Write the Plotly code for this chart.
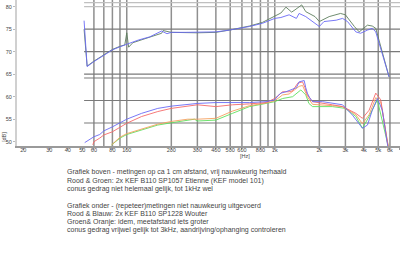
import numpy as np
import plotly.graph_objects as go

# ---------------- data (Hz, dB) ----------------
up_blue_f = [51.5, 54, 60, 70, 80, 90, 100, 120, 143, 172, 187, 200, 250, 300, 400, 494, 600, 674, 824, 1000,
             1100, 1250, 1400, 1460, 1620, 1870, 2000, 2150, 2600, 2870, 3100, 3530, 3800, 4230, 4560, 4810, 5200, 5920]
up_blue_db = [76.9, 66.7, 67.8, 69.3, 70.4, 71.1, 71.7, 72.6, 73.3, 74.6, 74.0, 74.3, 74.3, 74.3, 74.4, 74.8, 75.2, 75.6, 76.3, 77.4,
              77.6, 78.2, 77.4, 78.5, 77.8, 76.3, 75.6, 76.7, 77.0, 77.4, 76.7, 74.4, 74.1, 74.8, 75.2, 74.4, 70.8, 64.4]

up_green_f = [51.5, 54, 60, 70, 80, 90, 97, 100, 103, 110, 143, 172, 176, 200, 300, 400, 494, 600, 674, 824, 1000,
              1100, 1190, 1300, 1370, 1520, 1620, 1870, 2000, 2150, 2330, 2780, 3000, 3450, 3720, 4230, 4560, 4810, 5200, 5920]
up_green_db = [75.0, 66.8, 67.9, 69.4, 70.5, 71.2, 71.5, 74.2, 71.0, 72.0, 73.3, 74.1, 74.7, 74.3, 74.2, 74.3, 74.8, 75.3, 75.7, 76.5, 77.9,
               78.6, 79.9, 78.8, 79.3, 80.4, 78.9, 77.8, 76.7, 77.3, 77.8, 78.5, 78.2, 75.6, 74.4, 75.9, 75.7, 75.2, 71.0, 64.4]

lo_blue_f = [52, 56, 58, 60, 65.7, 70, 80, 90, 100, 126, 162, 200, 258, 300, 400, 518, 674, 873, 1000, 1050, 1100, 1190,
             1320, 1400, 1460, 1580, 1620, 1660, 1720, 1800, 2100, 2450, 2870, 3350, 3910, 4230, 4560, 4930, 5330, 5760, 6100]
lo_blue_db = [49.8, 50.4, 50.8, 51.1, 51.6, 52.4, 53.3, 54.2, 55.0, 56.3, 57.4, 57.9, 58.3, 58.5, 58.7, 58.7, 58.7, 58.9, 59.3, 60.2, 60.8, 61.1,
              61.6, 62.0, 63.3, 63.6, 62.0, 60.8, 59.8, 58.9, 58.9, 58.5, 58.2, 55.9, 53.0, 53.7, 57.0, 59.6, 57.0, 49.6, 45.0]

lo_red_f = [59, 60, 65.7, 70, 80, 90, 100, 126, 162, 200, 258, 300, 400, 518, 674, 873, 1000, 1130, 1250, 1320, 1430,
            1540, 1600, 1660, 1800, 2100, 2450, 2870, 3530, 3910, 4340, 4810, 5200, 5920]
lo_red_db = [49.3, 50.0, 50.8, 51.5, 52.2, 53.3, 54.1, 55.6, 56.7, 57.4, 57.9, 58.2, 57.8, 58.2, 58.4, 58.7, 59.6, 61.1, 61.1, 61.3, 63.0,
             63.3, 62.0, 60.4, 58.9, 58.6, 58.2, 57.8, 56.3, 55.2, 57.0, 60.8, 59.3, 47.5]

lo_orange_f = [79, 90, 100, 126, 162, 200, 258, 300, 400, 518, 674, 873, 1000, 1130, 1250, 1460, 1540, 1660, 1800,
               2450, 2870, 3530, 3910, 4340, 4810, 5200, 5920]
lo_orange_db = [49.3, 51.0, 51.8, 52.8, 53.9, 54.5, 55.0, 55.0, 55.2, 56.8, 58.0, 58.6, 59.1, 60.4, 60.6, 62.3, 62.5, 60.0, 58.3,
                58.0, 57.8, 56.0, 54.0, 56.0, 59.8, 58.8, 48.0]

lo_green_f = [79, 90, 100, 126, 162, 200, 258, 287, 300, 400, 518, 674, 873, 1000, 1130, 1320, 1500, 1620, 1700, 1800,
              2450, 3000, 3530, 3910, 4340, 4930, 5920]
lo_green_db = [49.3, 50.8, 51.6, 52.6, 53.7, 54.2, 54.8, 55.0, 54.6, 54.8, 56.3, 57.8, 58.5, 58.9, 59.6, 60.0, 61.5, 60.4, 58.5, 57.8,
               57.8, 57.4, 55.6, 53.0, 55.6, 59.3, 48.2]

x_tickvals = [20, 30, 40, 50, 60, 80, 100, 200, 300, 400, 500, 600, 800, 1000, 2000, 3000, 4000, 5000, 6000, 7000]
x_ticktext = ["20", "30", "40", "50", "60", "80", "100", "200", "300", "400", "500", "600", "800",
              "1k", "2k", "3k", "4k", "5k", "6k", "7k"]
y_tickvals = [50, 55, 60, 65, 70, 75, 80]
grid_freqs = [60, 70, 80, 90, 100, 200, 300, 400, 500, 600, 700, 800, 900, 1000, 2000, 3000, 4000, 5000, 6000]
grid_levels = [80.89, 80, 75, 70, 65, 64.16, 59.16, 54.16]

notes = [
    "Grafiek boven - metingen op ca 1 cm afstand, vrij nauwkeurig herhaald",
    "Rood & Groen: 2x KEF B110 SP1057 Etienne (KEF model 101)",
    "conus gedrag niet helemaal gelijk, tot 1kHz wel",
    "",
    "Grafiek onder - (repeteer)metingen niet nauwkeurig uitgevoerd",
    "Rood & Blauw: 2x KEF B110 SP1228 Wouter",
    "Groen& Oranje: idem, meetafstand iets groter",
    "conus gedrag vrijwel gelijk tot 3kHz, aandrijving/ophanging controleren",
]

FONT = "Arial, Liberation Sans, sans-serif"

fig = go.Figure()

series = [
    (up_green_f, up_green_db, "#5f7f5f"),
    (up_blue_f, up_blue_db, "#6a6af5"),
    (lo_green_f, lo_green_db, "#5ee05e"),
    (lo_orange_f, lo_orange_db, "#f5a060"),
    (lo_red_f, lo_red_db, "#f56a6a"),
    (lo_blue_f, lo_blue_db, "#6a6af5"),
]
for f, d, c in series:
    fig.add_trace(go.Scatter(x=f, y=d, mode="lines", line=dict(color=c, width=0.9), showlegend=False, hoverinfo="skip"))

shapes = []
for g in grid_freqs:
    shapes.append(dict(type="line", xref="x", yref="paper", x0=g, x1=g, y0=0, y1=1,
                       line=dict(color="#8f8f8f", width=1.5), layer="below"))
for i, lv in enumerate(grid_levels):
    col = "#c0c0c0" if i < 2 else "#7a7a7a"
    shapes.append(dict(type="line", xref="x", yref="y", x0=51.5, x1=7200, y0=lv, y1=lv,
                       line=dict(color=col, width=1.2), layer="below"))

H = 146.0  # plot height in px
ann = []
top_px = 172.3
for i, t in enumerate(notes):
    if not t:
        continue
    ypx = top_px + i * 8.3
    ann.append(dict(text=t, xref="paper", yref="paper", x=(65 - 17) / 383.0, y=(H - ypx) / H,
                    xanchor="left", yanchor="middle", showarrow=False,
                    font=dict(family=FONT, size=7, color="#444444")))
ann.append(dict(text="[Hz]", xref="paper", yref="paper", x=(245 - 17) / 383.0, y=(H - 156) / H,
                xanchor="center", yanchor="middle", showarrow=False,
                font=dict(family=FONT, size=5.5, color="#444")))
ann.append(dict(text="[dB]", xref="paper", yref="paper", x=(4 - 17) / 383.0, y=(H - 137) / H,
                xanchor="center", yanchor="middle", showarrow=False, textangle=-90,
                font=dict(family=FONT, size=5.5, color="#444")))

fig.update_layout(
    width=400, height=273, autosize=False,
    margin=dict(l=17, r=0, t=0, b=127, pad=0),
    paper_bgcolor="white", plot_bgcolor="white",
    shapes=shapes, annotations=ann,
    xaxis=dict(type="log", range=[1.2586, 3.846], tickvals=x_tickvals, ticktext=x_ticktext,
               showgrid=False, zeroline=False, showline=True, linecolor="#9a9a9a", linewidth=1.5,
               ticks="outside", ticklen=2, tickcolor="#999", ticklabelstandoff=-4,
               tickfont=dict(family=FONT, size=5.5, color="#444")),
    yaxis=dict(range=[49.044, 81.489], tickvals=y_tickvals, showgrid=False, zeroline=False,
               showline=True, linecolor="#d0d0d0", linewidth=2,
               ticks="outside", ticklen=2, tickcolor="#bbb",
               tickfont=dict(family=FONT, size=5.5, color="#444")),
)

fig.write_html("out.html")
